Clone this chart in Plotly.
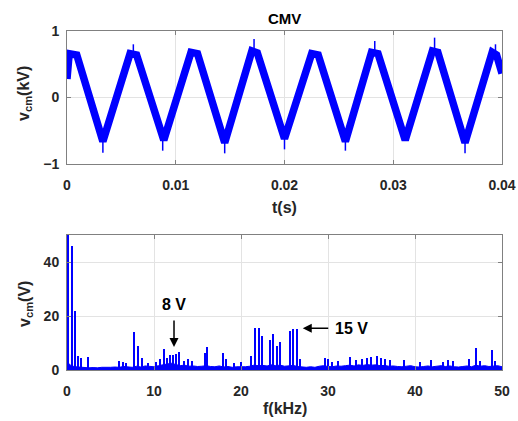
import numpy as np
import plotly.graph_objects as go

# ---------------- data ----------------
# CMV waveform vertices (t in s, v in kV)
cmv_t = [0.0, 0.0002, 0.0009, 0.0033, 0.0058, 0.0064, 0.0089, 0.0114, 0.0120,
         0.0145, 0.0170, 0.0175, 0.0200, 0.0225, 0.0231, 0.0256, 0.0280, 0.0286,
         0.0311, 0.0336, 0.0341, 0.0366, 0.0391, 0.0395, 0.0400]
cmv_v = [0.28, 0.66, 0.64, -0.66, 0.66, 0.64, -0.64, 0.68, 0.66,
         -0.68, 0.70, 0.67, -0.62, 0.66, 0.64, -0.66, 0.68, 0.66,
         -0.64, 0.70, 0.68, -0.68, 0.68, 0.64, 0.36]
# switching spikes (t, base, tip)
spike_t = [0.0172, 0.0283, 0.0338, 0.0394, 0.0061, 0.0033, 0.0088, 0.0145, 0.0256, 0.0366, 0.0200]
spike_base = [0.65, 0.65, 0.65, 0.65, 0.65, -0.65, -0.65, -0.65, -0.65, -0.65, -0.62]
spike_tip = [0.88, 0.85, 0.90, 0.80, 0.80, -0.83, -0.80, -0.84, -0.80, -0.84, -0.78]

# Spectrum: prominent harmonics (f in kHz, amplitude in V)
harm_f = [0.05, 0.18, 0.54, 0.90, 1.26, 1.62, 2.40, 6.0, 6.4, 6.8, 7.74, 8.2, 8.6, 9.3,
          10.3, 10.7, 11.15, 11.5, 11.84, 12.15, 12.5, 12.9, 13.5, 13.9, 14.4, 15.86,
          16.1, 17.97, 18.3, 19.2, 20.0, 21.2, 21.6, 22.07, 22.4, 23.4, 23.7, 24.2, 24.5,
          25.6, 26.0, 26.4, 26.8, 29.66, 30.0, 30.5, 31.2, 32.5, 33.2, 33.9, 34.5, 35.0,
          35.6, 36.1, 36.6, 37.1, 38.7, 40.6, 41.9, 43.2, 43.8, 44.4, 46.2, 47.0, 47.5,
          48.9, 49.2]
harm_v = [8.5, 50, 46, 22, 5.0, 4.4, 4.8, 3.5, 2.8, 2.5, 14, 8.8, 4.4, 2.5,
          3.0, 4.2, 7.8, 4.4, 5.6, 5.6, 6.0, 6.5, 3.5, 4.0, 3.5, 6.4,
          8.4, 6.2, 4.0, 2.5, 3.0, 5.0, 15.4, 15.4, 12.6, 11.0, 13.3, 8.9, 10.5,
          14.4, 15.2, 15.2, 4.0, 4.4, 4.2, 3.0, 3.2, 4.8, 3.8, 4.0, 4.5, 4.8,
          5.0, 4.6, 4.2, 3.6, 3.8, 3.0, 3.6, 3.0, 3.8, 3.2, 4.2, 8.0, 3.2,
          7.4, 3.5]
# noise floor (every 0.5 kHz)
floor_f = list(np.arange(0.0, 50.01, 0.5))
floor_v = [3.0,
           1.5, 1.2, 1.0, 0.9, 0.8, 0.9, 0.8, 1.0, 0.9, 1.0,
           1.1, 1.0, 1.3, 1.2, 1.0, 1.4, 1.1, 1.5, 1.3, 1.2,
           1.6, 1.8, 2.2, 2.5, 2.0, 1.6, 1.8, 1.4, 1.5, 1.3,
           1.4, 1.6, 1.3, 1.2, 1.5, 1.1, 1.3, 1.0, 1.2, 1.1,
           1.2, 1.4, 1.8, 1.6, 1.7, 1.5, 1.9, 1.6, 1.8, 1.4,
           1.5, 1.7, 1.3, 1.1, 1.0, 1.2, 1.0, 1.4, 1.6, 1.3,
           1.2, 1.5, 1.4, 1.6, 1.8, 1.5, 1.9, 1.7, 2.0, 1.8,
           1.9, 1.6, 1.7, 1.4, 1.5, 1.3, 1.2, 1.4, 1.6, 1.2,
           1.1, 1.3, 1.5, 1.2, 1.4, 1.6, 1.3, 1.5, 1.2, 1.1,
           1.3, 1.5, 1.2, 1.8, 1.4, 1.6, 1.3, 1.5, 1.6, 1.2]

top_xticks = [0, 0.01, 0.02, 0.03, 0.04]
top_xlabels = ["0", "0.01", "0.02", "0.03", "0.04"]
top_yticks = [-1, 0, 1]
bot_xticks = [0, 10, 20, 30, 40, 50]
bot_yticks = [0, 20, 40]

# ---------------- figure ----------------
BLUE = "#0000FF"
FONT = "Liberation Sans"
fig = go.Figure()

fig.add_trace(go.Scatter(x=cmv_t, y=cmv_v, mode="lines",
                         line=dict(color=BLUE, width=7.5), xaxis="x", yaxis="y",
                         showlegend=False, hoverinfo="skip"))
sx, sy = [], []
for t, b, p in zip(spike_t, spike_base, spike_tip):
    sx += [t, t, None]
    sy += [b, p, None]
fig.add_trace(go.Scatter(x=sx, y=sy, mode="lines", line=dict(color=BLUE, width=1.5),
                         xaxis="x", yaxis="y", showlegend=False, hoverinfo="skip"))

fig.add_trace(go.Scatter(x=floor_f, y=floor_v, mode="lines", fill="tozeroy",
                         fillcolor=BLUE, line=dict(color=BLUE, width=1),
                         xaxis="x2", yaxis="y2", showlegend=False, hoverinfo="skip"))
fig.add_trace(go.Bar(x=harm_f, y=harm_v, width=0.15, marker=dict(color=BLUE, line=dict(width=0)),
                     xaxis="x2", yaxis="y2", showlegend=False, hoverinfo="skip"))

tickfont = dict(family=FONT, size=14, color="#262626", weight="bold")
common = dict(showline=True, linecolor="#808080", linewidth=1, mirror="ticks",
              ticks="inside", ticklen=4, tickcolor="#808080", showgrid=True,
              gridcolor="#e3e3e3", gridwidth=1, zeroline=False, tickfont=tickfont,
              automargin=False)

fig.update_layout(
    width=518, height=421,
    margin=dict(l=67, r=16, t=31, b=51, autoexpand=False),
    paper_bgcolor="white", plot_bgcolor="white",
    bargap=0,
    xaxis=dict(domain=[0, 1], anchor="y", range=[0, 0.04], tickvals=top_xticks,
               ticktext=top_xlabels, ticklabelstandoff=8, **common),
    yaxis=dict(domain=[0.6077, 1.0], anchor="x", range=[-1, 1], tickvals=top_yticks,
               ticklabelstandoff=4, **common),
    xaxis2=dict(domain=[0, 1], anchor="y2", range=[0, 50], tickvals=bot_xticks,
                ticklabelstandoff=8, **common),
    yaxis2=dict(domain=[0, 0.3982], anchor="x2", range=[0, 50], tickvals=bot_yticks,
                ticklabelstandoff=4, **common),
)

lab = dict(family=FONT, size=16, color="#262626", weight="bold")
H_plot = 421 - 31 - 51
W_plot = 518 - 67 - 16


def py(p):
    return (421 - 51 - p) / H_plot


def px(p):
    return (p - 67) / W_plot


ann = [
    dict(text="<b>CMV</b>", x=0.5, y=py(18), xref="paper", yref="paper",
         showarrow=False, font=dict(family=FONT, size=15, color="black"), yanchor="middle"),
    dict(text="<b>t(s)</b>", x=0.5, xref="paper", y=py(207), yref="paper", showarrow=False,
         font=lab, yanchor="middle"),
    dict(text="<b>f(kHz)</b>", x=0.5, xref="paper", y=py(408), yref="paper", showarrow=False,
         font=lab, yanchor="middle"),
    dict(text="<b>v<sub>cm</sub>(kV)</b>", x=px(25), y=py(94), xref="paper", yref="paper",
         textangle=-90, showarrow=False, font=lab, xanchor="center", yanchor="middle"),
    dict(text="<b>v<sub>cm</sub>(V)</b>", x=px(25), y=py(304), xref="paper", yref="paper",
         textangle=-90, showarrow=False, font=lab, xanchor="center", yanchor="middle"),
    # annotation arrows on spectrum
    dict(x=12.3, y=8.5, ax=12.3, ay=18.9, xref="x2", yref="y2", axref="x2", ayref="y2",
         text="", showarrow=True, arrowhead=2, arrowsize=1.2, arrowwidth=1.5, arrowcolor="black"),
    dict(x=12.3, y=24.4, xref="x2", yref="y2", text="<b>8 V</b>", showarrow=False,
         font=dict(family=FONT, size=16, color="black")),
    dict(x=27.1, y=15.5, ax=30.2, ay=15.5, xref="x2", yref="y2", axref="x2", ayref="y2",
         text="", showarrow=True, arrowhead=2, arrowsize=1.2, arrowwidth=1.5, arrowcolor="black"),
    dict(x=32.7, y=15.5, xref="x2", yref="y2", text="<b>15 V</b>", showarrow=False,
         font=dict(family=FONT, size=16, color="black")),
]
fig.update_layout(annotations=ann)

fig.write_html("out.html", config={"displayModeBar": False},
               post_script="document.body.style.margin='0';document.body.style.overflow='hidden';")
